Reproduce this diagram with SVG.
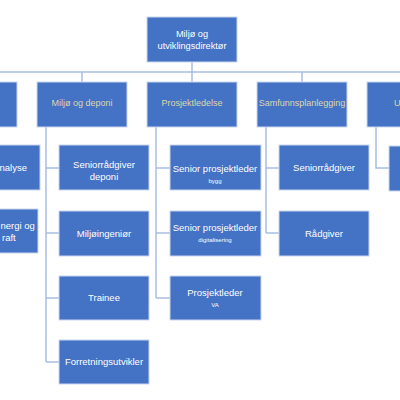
<svg xmlns="http://www.w3.org/2000/svg" width="400" height="400" viewBox="0 0 400 400">
<style>
.box{fill:#4472c4;stroke:#c9d6ee;stroke-width:1}
.c{fill:none;stroke:#a9bee3;stroke-width:1.5}
text{font-family:"Liberation Sans",Arial,sans-serif;fill:#ffffff;text-anchor:middle}
.l2{fill:#ded7ad;font-size:9px}
.l3{font-size:9.5px}
.sm{font-size:6px}
.top{font-size:9.2px}
.st{text-anchor:start}
</style>
<rect width="400" height="400" fill="#ffffff"/>
<g id="connectors">
<path class="c" d="M192 62V72M0 72H400M-28 72V82M82 72V82M192 72V82M302 72V82M412 72V82"/>
<path class="c" d="M46 127V362M46 168H59M46 233H59M46 298H59M46 362H59"/>
<path class="c" d="M156 127V298M156 168H170M156 233H170M156 298H170"/>
<path class="c" d="M266 127V233M266 168H279M266 233H279"/>
<path class="c" d="M376 127V168H389"/>
</g>
<g id="n-top"><rect class="box" x="147" y="17" width="90" height="45"/><text class="top" x="192" y="37">Miljø og</text><text class="top" x="192" y="48.5">utviklingsdirektør</text></g>
<g id="n-left"><rect class="box" x="-73" y="82" width="90" height="45"/></g>
<g id="n-miljo"><rect class="box" x="37" y="82" width="90" height="45"/><text class="l2" x="82" y="106">Miljø og deponi</text></g>
<g id="n-prosjekt"><rect class="box" x="147" y="82" width="90" height="45"/><text class="l2" x="192" y="106">Prosjektledelse</text></g>
<g id="n-samfunn"><rect class="box" x="257" y="82" width="90" height="45"/><text class="l2" x="302" y="106">Samfunnsplanlegging</text></g>
<g id="n-u"><rect class="box" x="367" y="82" width="90" height="45"/><text class="l2 st" x="394" y="106">U</text></g>
<g id="n-analyse"><rect class="box" x="-50" y="145" width="90" height="45"/><text class="l3" x="27" y="171" style="text-anchor:end">nalyse</text></g>
<g id="n-energi"><rect class="box" x="-52" y="209" width="90" height="44"/><text class="l3 st" x="0.5" y="229">nergi og</text><text class="l3 st" x="2" y="240.5">raft</text></g>
<g id="n-srd"><rect class="box" x="59" y="145" width="90" height="45"/><text class="l3" x="104" y="168">Seniorrådgiver</text><text class="l3" x="104" y="180">deponi</text></g>
<g id="n-mi"><rect class="box" x="59" y="211" width="90" height="45"/><text class="l3" x="104" y="237">Miljøingeniør</text></g>
<g id="n-tr"><rect class="box" x="59" y="276" width="90" height="44"/><text class="l3" x="104" y="301">Trainee</text></g>
<g id="n-fu"><rect class="box" x="59" y="340" width="90" height="44"/><text class="l3" x="104" y="365">Forretningsutvikler</text></g>
<g id="n-spb"><rect class="box" x="170" y="145" width="91" height="45"/><text class="l3" x="215" y="172">Senior prosjektleder</text><text class="sm" x="215" y="183">bygg</text></g>
<g id="n-spd"><rect class="box" x="170" y="211" width="91" height="45"/><text class="l3" x="215" y="231">Senior prosjektleder</text><text class="sm" x="215" y="242">digitalisering</text></g>
<g id="n-pva"><rect class="box" x="170" y="276" width="91" height="44"/><text class="l3" x="215" y="296">Prosjektleder</text><text class="sm" x="215" y="307">VA</text></g>
<g id="n-sr"><rect class="box" x="279" y="145" width="90" height="45"/><text class="l3" x="324" y="171">Seniorrådgiver</text></g>
<g id="n-r"><rect class="box" x="279" y="211" width="90" height="45"/><text class="l3" x="324" y="237">Rådgiver</text></g>
<g id="n-uc"><rect class="box" x="389" y="146" width="90" height="45"/></g>
</svg>
